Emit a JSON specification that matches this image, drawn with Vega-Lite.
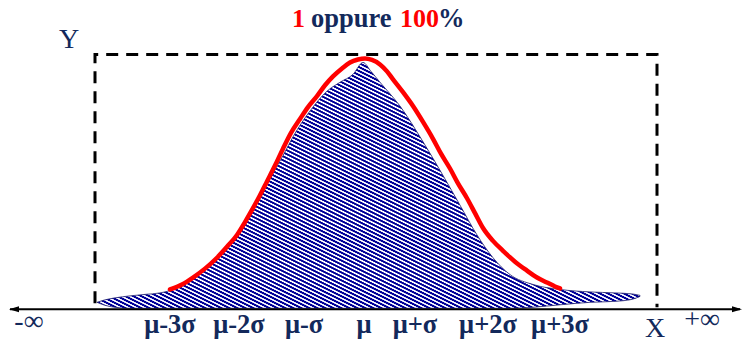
{
  "$schema": "https://vega.github.io/schema/vega-lite/v6.json",
  "width": 743,
  "height": 343,
  "autosize": {"type": "fit", "contains": "padding"},
  "padding": 0,
  "background": "white",
  "config": {"view": {"stroke": null}},
  "datasets": {
    "hatch": [
      {"x": 97, "top": 305, "bottom": 305},
      {"x": 105, "top": 302.5, "bottom": 308},
      {"x": 115, "top": 300.5, "bottom": 310},
      {"x": 130, "top": 298.5, "bottom": 311},
      {"x": 145, "top": 297, "bottom": 311},
      {"x": 160, "top": 295.5, "bottom": 311},
      {"x": 172, "top": 292.5, "bottom": 311},
      {"x": 183, "top": 288, "bottom": 311},
      {"x": 193, "top": 282, "bottom": 311},
      {"x": 210, "top": 267, "bottom": 311},
      {"x": 227, "top": 250, "bottom": 311},
      {"x": 243, "top": 230, "bottom": 311},
      {"x": 257, "top": 203, "bottom": 311},
      {"x": 270, "top": 180, "bottom": 311},
      {"x": 283, "top": 157, "bottom": 311},
      {"x": 293, "top": 138, "bottom": 311},
      {"x": 310, "top": 112, "bottom": 311},
      {"x": 327, "top": 92, "bottom": 311},
      {"x": 340, "top": 83, "bottom": 311},
      {"x": 353, "top": 75, "bottom": 311},
      {"x": 363, "top": 63, "bottom": 311},
      {"x": 371, "top": 72, "bottom": 311},
      {"x": 380, "top": 83, "bottom": 311},
      {"x": 400, "top": 107, "bottom": 311},
      {"x": 423, "top": 143, "bottom": 311},
      {"x": 443, "top": 177, "bottom": 311},
      {"x": 460, "top": 207, "bottom": 311},
      {"x": 477, "top": 237, "bottom": 311},
      {"x": 493, "top": 260, "bottom": 311},
      {"x": 510, "top": 277, "bottom": 311},
      {"x": 533, "top": 287, "bottom": 310},
      {"x": 560, "top": 292, "bottom": 307.5},
      {"x": 590, "top": 294.5, "bottom": 305},
      {"x": 615, "top": 295.5, "bottom": 304},
      {"x": 632, "top": 296.5, "bottom": 302},
      {"x": 640, "top": 298, "bottom": 299}
    ],
    "curve": [
      {"x": 170, "y": 292}, {"x": 182, "y": 287}, {"x": 193, "y": 280}, {"x": 205, "y": 271},
      {"x": 217, "y": 260}, {"x": 227, "y": 249}, {"x": 237, "y": 237}, {"x": 245, "y": 224},
      {"x": 253, "y": 210}, {"x": 260, "y": 197}, {"x": 267, "y": 183}, {"x": 275, "y": 167},
      {"x": 283, "y": 150}, {"x": 291, "y": 134}, {"x": 300, "y": 120}, {"x": 308, "y": 108},
      {"x": 317, "y": 97}, {"x": 325, "y": 86}, {"x": 333, "y": 77}, {"x": 342, "y": 69},
      {"x": 350, "y": 63}, {"x": 358, "y": 60}, {"x": 365, "y": 59}, {"x": 372, "y": 60.5},
      {"x": 380, "y": 65}, {"x": 387, "y": 72}, {"x": 393, "y": 80}, {"x": 403, "y": 93},
      {"x": 413, "y": 107}, {"x": 423, "y": 123}, {"x": 433, "y": 140}, {"x": 441, "y": 155},
      {"x": 450, "y": 170}, {"x": 458, "y": 185}, {"x": 467, "y": 200}, {"x": 475, "y": 215},
      {"x": 483, "y": 230}, {"x": 493, "y": 243}, {"x": 503, "y": 253}, {"x": 515, "y": 264},
      {"x": 527, "y": 273}, {"x": 537, "y": 280}, {"x": 547, "y": 285}, {"x": 555, "y": 289},
      {"x": 560, "y": 291}
    ],
    "frame": [
      {"i": 1, "x": 95, "y": 306},
      {"i": 2, "x": 95, "y": 55},
      {"i": 3, "x": 657, "y": 55},
      {"i": 4, "x": 657, "y": 310}
    ],
    "axis": [{"x": 10, "x2": 740, "y": 312}],
    "arrowLeft": [{"x": 14, "y": 312}],
    "arrowRight": [{"x": 737, "y": 312}],
    "titleRed": [{"x": 292, "y": 27, "t": "1"}, {"x": 400, "y": 27, "t": "100"}],
    "titleNavy": [{"x": 311, "y": 27, "t": "oppure"}, {"x": 438, "y": 27, "t": "%"}],
    "ticks": [
      {"x": 170, "y": 336, "t": "μ-3σ"},
      {"x": 239, "y": 336, "t": "μ-2σ"},
      {"x": 304, "y": 336, "t": "μ-σ"},
      {"x": 364, "y": 336, "t": "μ"},
      {"x": 415, "y": 336, "t": "μ+σ"},
      {"x": 488, "y": 336, "t": "μ+2σ"},
      {"x": 560, "y": 336, "t": "μ+3σ"}
    ],
    "letters": [
      {"x": 69, "y": 48, "t": "Y"},
      {"x": 655, "y": 340, "t": "X"}
    ],
    "infinity": [
      {"x": 29, "y": 333, "t": "-∞"},
      {"x": 702, "y": 331, "t": "+∞"}
    ]
  },
  "layer": [
    {
      "data": {"name": "hatch"},
      "mark": {
        "type": "area",
        "interpolate": "monotone",
        "stroke": "#1b1b6b",
        "strokeWidth": 0.8,
        "fill": {
          "gradient": "linear",
          "x1": 0, "y1": 1.0098, "x2": 0.8031, "y2": 0.2762,
          "stops": [
{"offset":0.00,"color":"#009"},{"offset":0.004,"color":"#009"},{"offset":0.0055,"color":"#fff"},{"offset":0.0085,"color":"#fff"},
{"offset":0.01,"color":"#009"},{"offset":0.014,"color":"#009"},{"offset":0.0155,"color":"#fff"},{"offset":0.0185,"color":"#fff"},
{"offset":0.02,"color":"#009"},{"offset":0.024,"color":"#009"},{"offset":0.0255,"color":"#fff"},{"offset":0.0285,"color":"#fff"},
{"offset":0.03,"color":"#009"},{"offset":0.034,"color":"#009"},{"offset":0.0355,"color":"#fff"},{"offset":0.0385,"color":"#fff"},
{"offset":0.04,"color":"#009"},{"offset":0.044,"color":"#009"},{"offset":0.0455,"color":"#fff"},{"offset":0.0485,"color":"#fff"},
{"offset":0.05,"color":"#009"},{"offset":0.054,"color":"#009"},{"offset":0.0555,"color":"#fff"},{"offset":0.0585,"color":"#fff"},
{"offset":0.06,"color":"#009"},{"offset":0.064,"color":"#009"},{"offset":0.0655,"color":"#fff"},{"offset":0.0685,"color":"#fff"},
{"offset":0.07,"color":"#009"},{"offset":0.074,"color":"#009"},{"offset":0.0755,"color":"#fff"},{"offset":0.0785,"color":"#fff"},
{"offset":0.08,"color":"#009"},{"offset":0.084,"color":"#009"},{"offset":0.0855,"color":"#fff"},{"offset":0.0885,"color":"#fff"},
{"offset":0.09,"color":"#009"},{"offset":0.094,"color":"#009"},{"offset":0.0955,"color":"#fff"},{"offset":0.0985,"color":"#fff"},
{"offset":0.10,"color":"#009"},{"offset":0.104,"color":"#009"},{"offset":0.1055,"color":"#fff"},{"offset":0.1085,"color":"#fff"},
{"offset":0.11,"color":"#009"},{"offset":0.114,"color":"#009"},{"offset":0.1155,"color":"#fff"},{"offset":0.1185,"color":"#fff"},
{"offset":0.12,"color":"#009"},{"offset":0.124,"color":"#009"},{"offset":0.1255,"color":"#fff"},{"offset":0.1285,"color":"#fff"},
{"offset":0.13,"color":"#009"},{"offset":0.134,"color":"#009"},{"offset":0.1355,"color":"#fff"},{"offset":0.1385,"color":"#fff"},
{"offset":0.14,"color":"#009"},{"offset":0.144,"color":"#009"},{"offset":0.1455,"color":"#fff"},{"offset":0.1485,"color":"#fff"},
{"offset":0.15,"color":"#009"},{"offset":0.154,"color":"#009"},{"offset":0.1555,"color":"#fff"},{"offset":0.1585,"color":"#fff"},
{"offset":0.16,"color":"#009"},{"offset":0.164,"color":"#009"},{"offset":0.1655,"color":"#fff"},{"offset":0.1685,"color":"#fff"},
{"offset":0.17,"color":"#009"},{"offset":0.174,"color":"#009"},{"offset":0.1755,"color":"#fff"},{"offset":0.1785,"color":"#fff"},
{"offset":0.18,"color":"#009"},{"offset":0.184,"color":"#009"},{"offset":0.1855,"color":"#fff"},{"offset":0.1885,"color":"#fff"},
{"offset":0.19,"color":"#009"},{"offset":0.194,"color":"#009"},{"offset":0.1955,"color":"#fff"},{"offset":0.1985,"color":"#fff"},
{"offset":0.20,"color":"#009"},{"offset":0.204,"color":"#009"},{"offset":0.2055,"color":"#fff"},{"offset":0.2085,"color":"#fff"},
{"offset":0.21,"color":"#009"},{"offset":0.214,"color":"#009"},{"offset":0.2155,"color":"#fff"},{"offset":0.2185,"color":"#fff"},
{"offset":0.22,"color":"#009"},{"offset":0.224,"color":"#009"},{"offset":0.2255,"color":"#fff"},{"offset":0.2285,"color":"#fff"},
{"offset":0.23,"color":"#009"},{"offset":0.234,"color":"#009"},{"offset":0.2355,"color":"#fff"},{"offset":0.2385,"color":"#fff"},
{"offset":0.24,"color":"#009"},{"offset":0.244,"color":"#009"},{"offset":0.2455,"color":"#fff"},{"offset":0.2485,"color":"#fff"},
{"offset":0.25,"color":"#009"},{"offset":0.254,"color":"#009"},{"offset":0.2555,"color":"#fff"},{"offset":0.2585,"color":"#fff"},
{"offset":0.26,"color":"#009"},{"offset":0.264,"color":"#009"},{"offset":0.2655,"color":"#fff"},{"offset":0.2685,"color":"#fff"},
{"offset":0.27,"color":"#009"},{"offset":0.274,"color":"#009"},{"offset":0.2755,"color":"#fff"},{"offset":0.2785,"color":"#fff"},
{"offset":0.28,"color":"#009"},{"offset":0.284,"color":"#009"},{"offset":0.2855,"color":"#fff"},{"offset":0.2885,"color":"#fff"},
{"offset":0.29,"color":"#009"},{"offset":0.294,"color":"#009"},{"offset":0.2955,"color":"#fff"},{"offset":0.2985,"color":"#fff"},
{"offset":0.30,"color":"#009"},{"offset":0.304,"color":"#009"},{"offset":0.3055,"color":"#fff"},{"offset":0.3085,"color":"#fff"},
{"offset":0.31,"color":"#009"},{"offset":0.314,"color":"#009"},{"offset":0.3155,"color":"#fff"},{"offset":0.3185,"color":"#fff"},
{"offset":0.32,"color":"#009"},{"offset":0.324,"color":"#009"},{"offset":0.3255,"color":"#fff"},{"offset":0.3285,"color":"#fff"},
{"offset":0.33,"color":"#009"},{"offset":0.334,"color":"#009"},{"offset":0.3355,"color":"#fff"},{"offset":0.3385,"color":"#fff"},
{"offset":0.34,"color":"#009"},{"offset":0.344,"color":"#009"},{"offset":0.3455,"color":"#fff"},{"offset":0.3485,"color":"#fff"},
{"offset":0.35,"color":"#009"},{"offset":0.354,"color":"#009"},{"offset":0.3555,"color":"#fff"},{"offset":0.3585,"color":"#fff"},
{"offset":0.36,"color":"#009"},{"offset":0.364,"color":"#009"},{"offset":0.3655,"color":"#fff"},{"offset":0.3685,"color":"#fff"},
{"offset":0.37,"color":"#009"},{"offset":0.374,"color":"#009"},{"offset":0.3755,"color":"#fff"},{"offset":0.3785,"color":"#fff"},
{"offset":0.38,"color":"#009"},{"offset":0.384,"color":"#009"},{"offset":0.3855,"color":"#fff"},{"offset":0.3885,"color":"#fff"},
{"offset":0.39,"color":"#009"},{"offset":0.394,"color":"#009"},{"offset":0.3955,"color":"#fff"},{"offset":0.3985,"color":"#fff"},
{"offset":0.40,"color":"#009"},{"offset":0.404,"color":"#009"},{"offset":0.4055,"color":"#fff"},{"offset":0.4085,"color":"#fff"},
{"offset":0.41,"color":"#009"},{"offset":0.414,"color":"#009"},{"offset":0.4155,"color":"#fff"},{"offset":0.4185,"color":"#fff"},
{"offset":0.42,"color":"#009"},{"offset":0.424,"color":"#009"},{"offset":0.4255,"color":"#fff"},{"offset":0.4285,"color":"#fff"},
{"offset":0.43,"color":"#009"},{"offset":0.434,"color":"#009"},{"offset":0.4355,"color":"#fff"},{"offset":0.4385,"color":"#fff"},
{"offset":0.44,"color":"#009"},{"offset":0.444,"color":"#009"},{"offset":0.4455,"color":"#fff"},{"offset":0.4485,"color":"#fff"},
{"offset":0.45,"color":"#009"},{"offset":0.454,"color":"#009"},{"offset":0.4555,"color":"#fff"},{"offset":0.4585,"color":"#fff"},
{"offset":0.46,"color":"#009"},{"offset":0.464,"color":"#009"},{"offset":0.4655,"color":"#fff"},{"offset":0.4685,"color":"#fff"},
{"offset":0.47,"color":"#009"},{"offset":0.474,"color":"#009"},{"offset":0.4755,"color":"#fff"},{"offset":0.4785,"color":"#fff"},
{"offset":0.48,"color":"#009"},{"offset":0.484,"color":"#009"},{"offset":0.4855,"color":"#fff"},{"offset":0.4885,"color":"#fff"},
{"offset":0.49,"color":"#009"},{"offset":0.494,"color":"#009"},{"offset":0.4955,"color":"#fff"},{"offset":0.4985,"color":"#fff"},
{"offset":0.50,"color":"#009"},{"offset":0.504,"color":"#009"},{"offset":0.5055,"color":"#fff"},{"offset":0.5085,"color":"#fff"},
{"offset":0.51,"color":"#009"},{"offset":0.514,"color":"#009"},{"offset":0.5155,"color":"#fff"},{"offset":0.5185,"color":"#fff"},
{"offset":0.52,"color":"#009"},{"offset":0.524,"color":"#009"},{"offset":0.5255,"color":"#fff"},{"offset":0.5285,"color":"#fff"},
{"offset":0.53,"color":"#009"},{"offset":0.534,"color":"#009"},{"offset":0.5355,"color":"#fff"},{"offset":0.5385,"color":"#fff"},
{"offset":0.54,"color":"#009"},{"offset":0.544,"color":"#009"},{"offset":0.5455,"color":"#fff"},{"offset":0.5485,"color":"#fff"},
{"offset":0.55,"color":"#009"},{"offset":0.554,"color":"#009"},{"offset":0.5555,"color":"#fff"},{"offset":0.5585,"color":"#fff"},
{"offset":0.56,"color":"#009"},{"offset":0.564,"color":"#009"},{"offset":0.5655,"color":"#fff"},{"offset":0.5685,"color":"#fff"},
{"offset":0.57,"color":"#009"},{"offset":0.574,"color":"#009"},{"offset":0.5755,"color":"#fff"},{"offset":0.5785,"color":"#fff"},
{"offset":0.58,"color":"#009"},{"offset":0.584,"color":"#009"},{"offset":0.5855,"color":"#fff"},{"offset":0.5885,"color":"#fff"},
{"offset":0.59,"color":"#009"},{"offset":0.594,"color":"#009"},{"offset":0.5955,"color":"#fff"},{"offset":0.5985,"color":"#fff"},
{"offset":0.60,"color":"#009"},{"offset":0.604,"color":"#009"},{"offset":0.6055,"color":"#fff"},{"offset":0.6085,"color":"#fff"},
{"offset":0.61,"color":"#009"},{"offset":0.614,"color":"#009"},{"offset":0.6155,"color":"#fff"},{"offset":0.6185,"color":"#fff"},
{"offset":0.62,"color":"#009"},{"offset":0.624,"color":"#009"},{"offset":0.6255,"color":"#fff"},{"offset":0.6285,"color":"#fff"},
{"offset":0.63,"color":"#009"},{"offset":0.634,"color":"#009"},{"offset":0.6355,"color":"#fff"},{"offset":0.6385,"color":"#fff"},
{"offset":0.64,"color":"#009"},{"offset":0.644,"color":"#009"},{"offset":0.6455,"color":"#fff"},{"offset":0.6485,"color":"#fff"},
{"offset":0.65,"color":"#009"},{"offset":0.654,"color":"#009"},{"offset":0.6555,"color":"#fff"},{"offset":0.6585,"color":"#fff"},
{"offset":0.66,"color":"#009"},{"offset":0.664,"color":"#009"},{"offset":0.6655,"color":"#fff"},{"offset":0.6685,"color":"#fff"},
{"offset":0.67,"color":"#009"},{"offset":0.674,"color":"#009"},{"offset":0.6755,"color":"#fff"},{"offset":0.6785,"color":"#fff"},
{"offset":0.68,"color":"#009"},{"offset":0.684,"color":"#009"},{"offset":0.6855,"color":"#fff"},{"offset":0.6885,"color":"#fff"},
{"offset":0.69,"color":"#009"},{"offset":0.694,"color":"#009"},{"offset":0.6955,"color":"#fff"},{"offset":0.6985,"color":"#fff"},
{"offset":0.70,"color":"#009"},{"offset":0.704,"color":"#009"},{"offset":0.7055,"color":"#fff"},{"offset":0.7085,"color":"#fff"},
{"offset":0.71,"color":"#009"},{"offset":0.714,"color":"#009"},{"offset":0.7155,"color":"#fff"},{"offset":0.7185,"color":"#fff"},
{"offset":0.72,"color":"#009"},{"offset":0.724,"color":"#009"},{"offset":0.7255,"color":"#fff"},{"offset":0.7285,"color":"#fff"},
{"offset":0.73,"color":"#009"},{"offset":0.734,"color":"#009"},{"offset":0.7355,"color":"#fff"},{"offset":0.7385,"color":"#fff"},
{"offset":0.74,"color":"#009"},{"offset":0.744,"color":"#009"},{"offset":0.7455,"color":"#fff"},{"offset":0.7485,"color":"#fff"},
{"offset":0.75,"color":"#009"},{"offset":0.754,"color":"#009"},{"offset":0.7555,"color":"#fff"},{"offset":0.7585,"color":"#fff"},
{"offset":0.76,"color":"#009"},{"offset":0.764,"color":"#009"},{"offset":0.7655,"color":"#fff"},{"offset":0.7685,"color":"#fff"},
{"offset":0.77,"color":"#009"},{"offset":0.774,"color":"#009"},{"offset":0.7755,"color":"#fff"},{"offset":0.7785,"color":"#fff"},
{"offset":0.78,"color":"#009"},{"offset":0.784,"color":"#009"},{"offset":0.7855,"color":"#fff"},{"offset":0.7885,"color":"#fff"},
{"offset":0.79,"color":"#009"},{"offset":0.794,"color":"#009"},{"offset":0.7955,"color":"#fff"},{"offset":0.7985,"color":"#fff"},
{"offset":0.80,"color":"#009"},{"offset":0.804,"color":"#009"},{"offset":0.8055,"color":"#fff"},{"offset":0.8085,"color":"#fff"},
{"offset":0.81,"color":"#009"},{"offset":0.814,"color":"#009"},{"offset":0.8155,"color":"#fff"},{"offset":0.8185,"color":"#fff"},
{"offset":0.82,"color":"#009"},{"offset":0.824,"color":"#009"},{"offset":0.8255,"color":"#fff"},{"offset":0.8285,"color":"#fff"},
{"offset":0.83,"color":"#009"},{"offset":0.834,"color":"#009"},{"offset":0.8355,"color":"#fff"},{"offset":0.8385,"color":"#fff"},
{"offset":0.84,"color":"#009"},{"offset":0.844,"color":"#009"},{"offset":0.8455,"color":"#fff"},{"offset":0.8485,"color":"#fff"},
{"offset":0.85,"color":"#009"},{"offset":0.854,"color":"#009"},{"offset":0.8555,"color":"#fff"},{"offset":0.8585,"color":"#fff"},
{"offset":0.86,"color":"#009"},{"offset":0.864,"color":"#009"},{"offset":0.8655,"color":"#fff"},{"offset":0.8685,"color":"#fff"},
{"offset":0.87,"color":"#009"},{"offset":0.874,"color":"#009"},{"offset":0.8755,"color":"#fff"},{"offset":0.8785,"color":"#fff"},
{"offset":0.88,"color":"#009"},{"offset":0.884,"color":"#009"},{"offset":0.8855,"color":"#fff"},{"offset":0.8885,"color":"#fff"},
{"offset":0.89,"color":"#009"},{"offset":0.894,"color":"#009"},{"offset":0.8955,"color":"#fff"},{"offset":0.8985,"color":"#fff"},
{"offset":0.90,"color":"#009"},{"offset":0.904,"color":"#009"},{"offset":0.9055,"color":"#fff"},{"offset":0.9085,"color":"#fff"},
{"offset":0.91,"color":"#009"},{"offset":0.914,"color":"#009"},{"offset":0.9155,"color":"#fff"},{"offset":0.9185,"color":"#fff"},
{"offset":0.92,"color":"#009"},{"offset":0.924,"color":"#009"},{"offset":0.9255,"color":"#fff"},{"offset":0.9285,"color":"#fff"},
{"offset":0.93,"color":"#009"},{"offset":0.934,"color":"#009"},{"offset":0.9355,"color":"#fff"},{"offset":0.9385,"color":"#fff"},
{"offset":0.94,"color":"#009"},{"offset":0.944,"color":"#009"},{"offset":0.9455,"color":"#fff"},{"offset":0.9485,"color":"#fff"},
{"offset":0.95,"color":"#009"},{"offset":0.954,"color":"#009"},{"offset":0.9555,"color":"#fff"},{"offset":0.9585,"color":"#fff"},
{"offset":0.96,"color":"#009"},{"offset":0.964,"color":"#009"},{"offset":0.9655,"color":"#fff"},{"offset":0.9685,"color":"#fff"},
{"offset":0.97,"color":"#009"},{"offset":0.974,"color":"#009"},{"offset":0.9755,"color":"#fff"},{"offset":0.9785,"color":"#fff"},
{"offset":0.98,"color":"#009"},{"offset":0.984,"color":"#009"},{"offset":0.9855,"color":"#fff"},{"offset":0.9885,"color":"#fff"},
{"offset":0.99,"color":"#009"},{"offset":0.994,"color":"#009"},{"offset":0.9955,"color":"#fff"},{"offset":0.9985,"color":"#fff"},
{"offset":1,"color":"#009"}
          ]
        }
      },
      "encoding": {
        "x": {"field": "x", "type": "quantitative", "scale": {"domain": [0, 743], "nice": false, "zero": false}, "axis": null},
        "y": {"field": "top", "type": "quantitative", "scale": {"domain": [0, 343], "reverse": true, "nice": false, "zero": false}, "axis": null},
        "y2": {"field": "bottom"}
      }
    },
    {
      "data": {"name": "frame"},
      "mark": {"type": "line", "color": "black", "strokeWidth": 3, "strokeDash": [12, 8]},
      "encoding": {
        "x": {"field": "x", "type": "quantitative", "scale": {"domain": [0, 743], "nice": false, "zero": false}, "axis": null},
        "y": {"field": "y", "type": "quantitative", "scale": {"domain": [0, 343], "reverse": true, "nice": false, "zero": false}, "axis": null},
        "order": {"field": "i", "type": "quantitative"}
      }
    },
    {
      "data": {"name": "curve"},
      "mark": {"type": "line", "color": "#ff0000", "strokeWidth": 4.5, "interpolate": "monotone", "strokeCap": "round"},
      "encoding": {
        "x": {"field": "x", "type": "quantitative", "scale": {"domain": [0, 743], "nice": false, "zero": false}, "axis": null},
        "y": {"field": "y", "type": "quantitative", "scale": {"domain": [0, 343], "reverse": true, "nice": false, "zero": false}, "axis": null}
      }
    },
    {
      "data": {"name": "axis"},
      "mark": {"type": "rule", "color": "black", "strokeWidth": 2.2},
      "encoding": {
        "x": {"field": "x", "type": "quantitative", "scale": {"domain": [0, 743], "nice": false, "zero": false}, "axis": null},
        "x2": {"field": "x2"},
        "y": {"field": "y", "type": "quantitative", "scale": {"domain": [0, 343], "reverse": true, "nice": false, "zero": false}, "axis": null}
      }
    },
    {
      "data": {"name": "arrowLeft"},
      "mark": {"type": "point", "shape": "M-1,0L1,-0.6L1,0.6Z", "filled": true, "color": "black", "size": 100, "opacity": 1},
      "encoding": {
        "x": {"field": "x", "type": "quantitative", "scale": {"domain": [0, 743], "nice": false, "zero": false}, "axis": null},
        "y": {"field": "y", "type": "quantitative", "scale": {"domain": [0, 343], "reverse": true, "nice": false, "zero": false}, "axis": null}
      }
    },
    {
      "data": {"name": "arrowRight"},
      "mark": {"type": "point", "shape": "M1,0L-1,-0.6L-1,0.6Z", "filled": true, "color": "black", "size": 100, "opacity": 1},
      "encoding": {
        "x": {"field": "x", "type": "quantitative", "scale": {"domain": [0, 743], "nice": false, "zero": false}, "axis": null},
        "y": {"field": "y", "type": "quantitative", "scale": {"domain": [0, 343], "reverse": true, "nice": false, "zero": false}, "axis": null}
      }
    },
    {
      "data": {"name": "titleRed"},
      "mark": {"type": "text", "font": "Liberation Serif", "fontSize": 26, "fontWeight": "bold", "color": "#ff0000", "align": "left", "baseline": "alphabetic"},
      "encoding": {
        "x": {"field": "x", "type": "quantitative", "scale": {"domain": [0, 743], "nice": false, "zero": false}, "axis": null},
        "y": {"field": "y", "type": "quantitative", "scale": {"domain": [0, 343], "reverse": true, "nice": false, "zero": false}, "axis": null},
        "text": {"field": "t"}
      }
    },
    {
      "data": {"name": "titleNavy"},
      "mark": {"type": "text", "font": "Liberation Serif", "fontSize": 26.5, "fontWeight": "bold", "color": "#13295b", "align": "left", "baseline": "alphabetic"},
      "encoding": {
        "x": {"field": "x", "type": "quantitative", "scale": {"domain": [0, 743], "nice": false, "zero": false}, "axis": null},
        "y": {"field": "y", "type": "quantitative", "scale": {"domain": [0, 343], "reverse": true, "nice": false, "zero": false}, "axis": null},
        "text": {"field": "t"}
      }
    },
    {
      "data": {"name": "ticks"},
      "mark": {"type": "text", "font": "Liberation Serif", "fontSize": 26.5, "fontWeight": "bold", "color": "#13295b", "align": "center", "baseline": "alphabetic"},
      "encoding": {
        "x": {"field": "x", "type": "quantitative", "scale": {"domain": [0, 743], "nice": false, "zero": false}, "axis": null},
        "y": {"field": "y", "type": "quantitative", "scale": {"domain": [0, 343], "reverse": true, "nice": false, "zero": false}, "axis": null},
        "text": {"field": "t"}
      }
    },
    {
      "data": {"name": "letters"},
      "mark": {"type": "text", "font": "Liberation Serif", "fontSize": 28, "color": "#13295b", "align": "center", "baseline": "alphabetic"},
      "encoding": {
        "x": {"field": "x", "type": "quantitative", "scale": {"domain": [0, 743], "nice": false, "zero": false}, "axis": null},
        "y": {"field": "y", "type": "quantitative", "scale": {"domain": [0, 343], "reverse": true, "nice": false, "zero": false}, "axis": null},
        "text": {"field": "t"}
      }
    },
    {
      "data": {"name": "infinity"},
      "mark": {"type": "text", "font": "Liberation Serif", "fontSize": 28, "color": "#13295b", "align": "center", "baseline": "alphabetic"},
      "encoding": {
        "x": {"field": "x", "type": "quantitative", "scale": {"domain": [0, 743], "nice": false, "zero": false}, "axis": null},
        "y": {"field": "y", "type": "quantitative", "scale": {"domain": [0, 343], "reverse": true, "nice": false, "zero": false}, "axis": null},
        "text": {"field": "t"}
      }
    }
  ]
}
